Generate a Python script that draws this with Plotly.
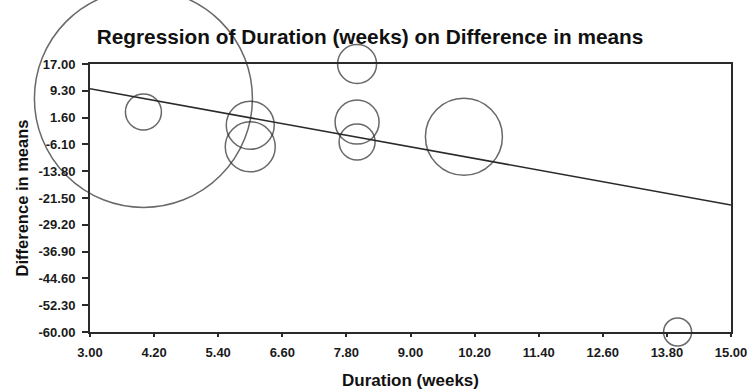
import plotly.graph_objects as go

# Study data (meta-regression bubble plot)
duration_weeks = [4.0, 4.0, 6.0, 6.0, 8.0, 8.0, 8.0, 10.0, 14.0]
diff_in_means = [7.1, 3.2, -0.6, -6.8, 17.0, 0.3, -5.4, -3.9, -60.0]
study_weight = [218, 36, 48, 50, 39, 44, 36, 77, 28]

# Fitted regression line endpoints
reg_x = [3.0, 15.0]
reg_y = [9.9, -23.5]

x_ticks = [3.00, 4.20, 5.40, 6.60, 7.80, 9.00, 10.20, 11.40, 12.60, 13.80, 15.00]
y_ticks = [17.00, 9.30, 1.60, -6.10, -13.80, -21.50, -29.20, -36.90, -44.60, -52.30, -60.00]

FONT = "Arial, Liberation Sans, sans-serif"
INK = "#2a2a2a"

fig = go.Figure()
fig.add_trace(go.Scatter(
    x=reg_x, y=reg_y, mode="lines",
    line=dict(color=INK, width=1.6),
    cliponaxis=False, hoverinfo="skip", showlegend=False,
))
fig.add_trace(go.Scatter(
    x=duration_weeks, y=diff_in_means, mode="markers",
    marker=dict(size=study_weight, sizemode="diameter", sizeref=1,
                color="rgba(0,0,0,0)", line=dict(color=INK, width=1.5)),
    cliponaxis=False, showlegend=False,
))

tickfont = dict(size=13, family=FONT, color="#1a1a1a", weight="bold")

fig.update_layout(
    width=749, height=391,
    margin=dict(l=90, r=18, t=63.5, b=58.5, autoexpand=False),
    paper_bgcolor="white", plot_bgcolor="white",
    font=dict(family=FONT, color="#111111"),
    title=dict(text="<b>Regression of Duration (weeks) on Difference in means</b>",
               x=0.494, xanchor="center", y=1 - 37 / 391, yanchor="middle",
               font=dict(size=20.8, family=FONT, color="#111111")),
    xaxis=dict(
        automargin=False,
        range=[3, 15], tickvals=x_ticks,
        ticktext=[f"{v:.2f}" for v in x_ticks],
        showgrid=False, zeroline=False,
        showline=True, linewidth=2, linecolor=INK, mirror=True,
        ticks="outside", ticklen=3, tickwidth=2, tickcolor=INK,
        ticklabelstandoff=4,
        tickfont=tickfont,
        title=dict(text="<b>Duration (weeks)</b>", font=dict(size=17, family=FONT, color="#111111"),
                   standoff=16),
    ),
    yaxis=dict(
        automargin=False,
        range=[-60, 17], tickvals=y_ticks,
        ticktext=[f"{v:.2f}" for v in y_ticks],
        showgrid=False, zeroline=False,
        showline=True, linewidth=2, linecolor=INK, mirror=True,
        ticks="outside", ticklen=6, tickwidth=1.5, tickcolor=INK,
        ticklabelstandoff=4,
        tickfont=tickfont,
        title=dict(text="<b>Difference in means</b>", font=dict(size=16.5, family=FONT, color="#111111"),
                   standoff=6),
    ),
)

fig.write_html("out.html")
